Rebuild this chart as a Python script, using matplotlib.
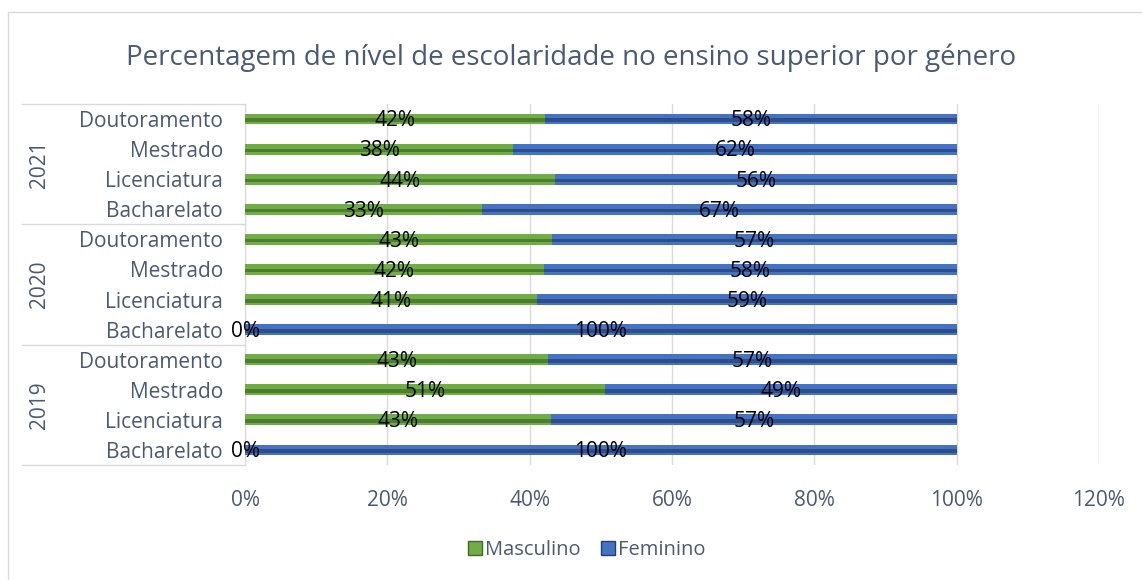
import numpy as np
import matplotlib
matplotlib.use("Agg")
from matplotlib import pyplot as plt
from matplotlib.patches import Patch, Rectangle
import matplotlib.transforms as mtransforms

plt.rcParams['font.family'] = ['Open Sans', 'DejaVu Sans']

# data (bottom row first)
years = ['2019', '2020', '2021']
levels = ['Bacharelato', 'Licenciatura', 'Mestrado', 'Doutoramento']
masculino = [0.0, 43.0, 50.6, 42.6,    # 2019
             0.0, 41.1, 42.0, 43.2,    # 2020
             33.3, 43.6, 37.7, 42.2]   # 2021
feminino = [100 - m for m in masculino]
xticks = [0, 20, 40, 60, 80, 100, 120]

TXT = '#4a5a70'
GREEN = '#70ad47'
GREEN_D = '#3f6a25'
BLUE = '#4472c4'
BLUE_D = '#263f72'

fig = plt.figure(figsize=(11.42, 5.8), dpi=100)
ax = fig.add_axes([245/1142, 1 - 465/580, 854/1142, 361/580])

n = len(masculino)
y = np.arange(n)
h = 0.36

ax.barh(y, masculino, height=h, color=GREEN, zorder=3)
ax.barh(y, feminino, left=masculino, height=h, color=BLUE, zorder=3)
# darker groove to mimic the bevel look
ax.barh(y - 0.04, masculino, height=0.12, color=GREEN_D, alpha=0.7, zorder=4)
ax.barh(y - 0.04, feminino, left=masculino, height=0.12, color=BLUE_D, alpha=0.7, zorder=4)

for i in range(n):
    ax.text(masculino[i] / 2, y[i] - 0.06, '{:.0f}%'.format(masculino[i]),
            ha='center', va='center', fontsize=15, color='black', zorder=5)
    ax.text(masculino[i] + feminino[i] / 2, y[i] - 0.06, '{:.0f}%'.format(feminino[i]),
            ha='center', va='center', fontsize=15, color='black', zorder=5)

ax.set_xlim(0, 120)
ax.set_ylim(-0.5, n - 0.5)
ax.set_xticks(xticks)
ax.set_xticklabels(['{}%'.format(t) for t in xticks])
ax.set_yticks(y)
ax.set_yticklabels(levels * len(years))
ax.tick_params(axis='x', length=0, colors=TXT, labelsize=15, pad=18)
ax.tick_params(axis='y', length=0, colors=TXT, labelsize=15, pad=16)
ax.grid(axis='x', color='#d9d9d9', linewidth=1, zorder=0)
for s in ['top', 'right', 'bottom']:
    ax.spines[s].set_visible(False)
ax.spines['left'].set_color('#d9d9d9')

# year groups on the category axis
trans = mtransforms.blended_transform_factory(ax.transAxes, ax.transData)
x0 = (22 - 245) / 854
for k, yr in enumerate(years):
    lo = k * 4 - 0.5
    ax.plot([x0, 0], [lo, lo], color='#d9d9d9', lw=1, transform=trans, clip_on=False)
    ax.text((40 - 245) / 854, lo + 2, yr, rotation=90, ha='center', va='center',
            fontsize=15, color=TXT, transform=trans)
ax.plot([x0, 0], [n - 0.5, n - 0.5], color='#d9d9d9', lw=1, transform=trans, clip_on=False)

fig.text(0.5, 1 - 58/580, 'Percentagem de nível de escolaridade no ensino superior por género',
         ha='center', va='center', fontsize=20, color=TXT)

handles = [Patch(facecolor=GREEN, edgecolor=GREEN_D), Patch(facecolor=BLUE, edgecolor=BLUE_D)]
fig.legend(handles, ['Masculino', 'Feminino'], loc='center',
           bbox_to_anchor=(0.5 + 16/1142, 1 - 550/580),
           ncol=2, frameon=False, fontsize=14.5, labelcolor=TXT, handlelength=0.7,
           handleheight=0.7, handletextpad=0.15, columnspacing=1.0)

fig.patches.append(Rectangle((8/1142, -0.1), 2, 1.1 - 12/580, transform=fig.transFigure,
                             fill=False, edgecolor='#d9d9d9', lw=1))

fig.savefig('out.png', dpi=100)
